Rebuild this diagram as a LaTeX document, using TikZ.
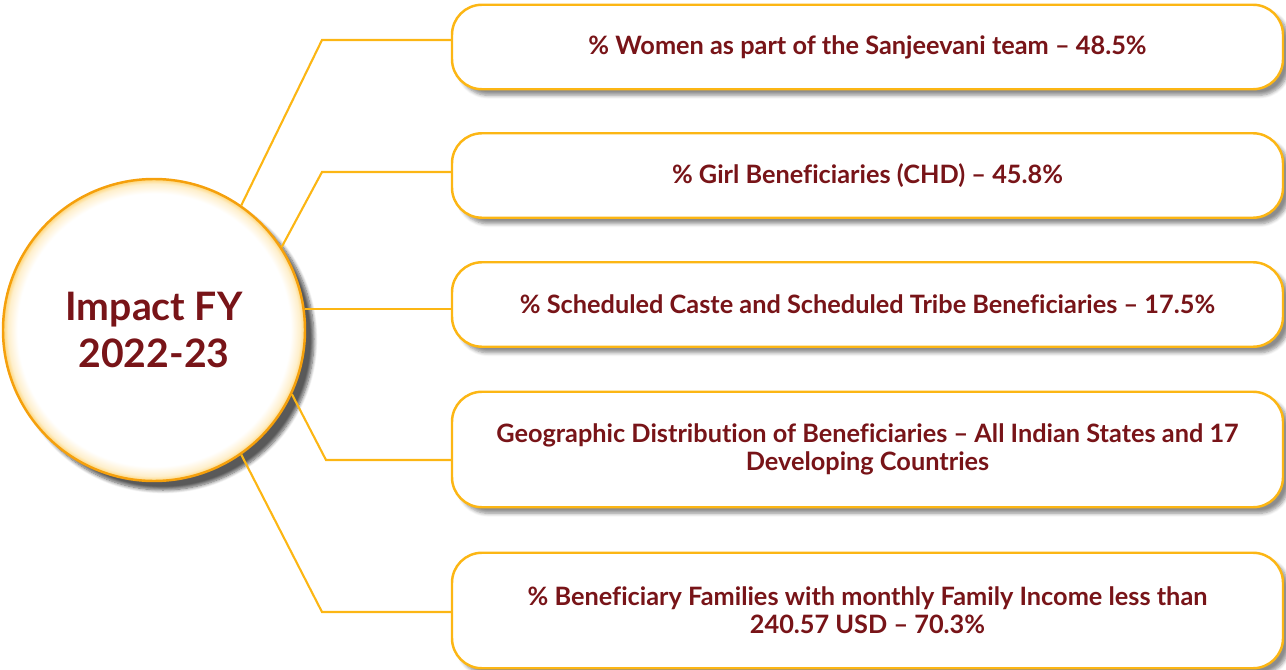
\documentclass[tikz,border=0pt]{standalone}
\usepackage{fontspec}
\setmainfont{Lato}[Ligatures=NoCommon]
\usepackage{tikz}
\usetikzlibrary{positioning,calc}
\usetikzlibrary{shadows,shadows.blur}
\usepackage{xcolor}
\definecolor{imred}{RGB}{120,20,24}
\definecolor{imamber}{RGB}{252,182,20}
\definecolor{imorange}{RGB}{245,160,12}
\pgfdeclareradialshading{hubglow}{\pgfpoint{0bp}{0bp}}{%
    color(0bp)=(white); color(22.6bp)=(white);
    color(24.2bp)=(imamber!22); color(25bp)=(imamber!60)}
\tikzset{
    fact/.style={
        draw=imamber,line width=1.4pt,rounded corners=0.6cm,fill=white,
        minimum width=16.62cm,minimum height=#1,
        align=center,text=imred,font=\fontsize{14.4}{16}\selectfont\bfseries,
        blur shadow={shadow xshift=0.12cm,shadow yshift=-0.12cm,
            shadow blur steps=6,shadow opacity=45}
    },
    fact/.default=1.69cm,
    hub/.style={
        circle,draw=imorange,line width=1.4pt,shading=hubglow,
        minimum size=6.04cm,align=center,text=imred,
        font=\fontsize{22.3}{27}\selectfont\bfseries,
        blur shadow={shadow xshift=0.18cm,shadow yshift=-0.18cm,
            shadow blur steps=8,shadow opacity=65}
    },
    link/.style={draw=imamber,line width=1.2pt}
}

\begin{document}
\begin{tikzpicture}
\useasboundingbox (0,0) rectangle (25.72,-13.4);

\node[fact](women) at (17.35,-0.94)
{\% Women as part of the Sanjeevani team – 48.5\%};

\node[fact](girls) at (17.35,-3.51)
{\% Girl Beneficiaries (CHD) – 45.8\%};

\node[fact](caste) at (17.35,-6.09)
{\% Scheduled Caste and Scheduled Tribe Beneficiaries – 17.5\%};

\node[fact=2.31cm](geo) at (17.35,-8.99)
{Geographic Distribution of Beneficiaries – All Indian States and 17\\
Developing Countries};

\node[fact=2.31cm](income) at (17.35,-12.21)
{\% Beneficiary Families with monthly Family Income less than\\
240.57 USD – 70.3\%};

% elbow points of the connectors
\coordinate (k1) at (6.44,-0.80);
\coordinate (k2) at (6.44,-3.44);
\coordinate (k4) at (6.52,-9.20);
\coordinate (k5) at (6.44,-12.24);

\node[hub](hub) at (3.08,-6.6){Impact FY\\2022-23};

\draw[link](hub.55)--(k1)--(women.west |- k1);
\draw[link](hub.33)--(k2)--(girls.west |- k2);
\draw[link](hub.8)--(caste.west |- hub.8);
\draw[link](hub.-25)--(k4)--(geo.west |- k4);
\draw[link](hub.-55)--(k5)--(income.west |- k5);

\end{tikzpicture}
\end{document}
